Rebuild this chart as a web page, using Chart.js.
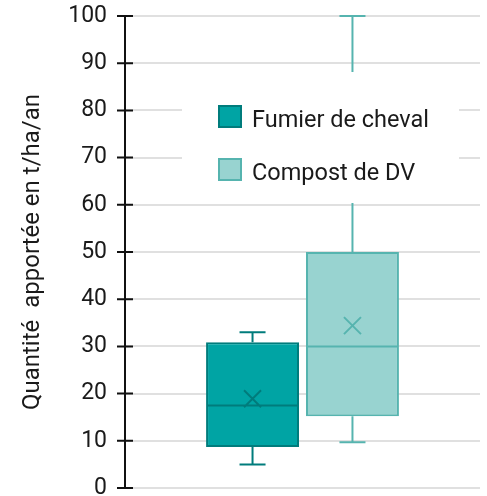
<!DOCTYPE html>
<html>
<head>
<meta charset="utf-8">
<script src="https://cdn.jsdelivr.net/npm/chart.js@4.4.1/dist/chart.umd.min.js"></script>
<style>
  html, body { margin: 0; padding: 0; background: #ffffff; }
  #wrap { width: 487px; height: 496px; position: relative; }
</style>
</head>
<body>
<div id="wrap"><canvas id="c" width="487" height="496"></canvas></div>
<script>
// ---- data ----
const categories = [''];
const seriesNames = ['Fumier de cheval', 'Compost de DV'];
const whiskerMin = [5, 9.7];
const quartile1 = [8.7, 15.2];
const medians = [17.5, 30];
const quartile3 = [30.9, 50];
const whiskerMax = [33, 100];
const means = [18.9, 34.4];
const yTickValues = [0, 10, 20, 30, 40, 50, 60, 70, 80, 90, 100];
const yTitle = 'Quantité  apportée en t/ha/an';

// ---- styles ----
const fills = ['rgb(0,164,164)', 'rgb(152,211,208)'];
const borders = ['rgb(0,124,124)', 'rgb(86,180,175)'];
const FONT = 'Roboto';

const boxPlugin = {
  id: 'boxExtras',
  afterDatasetsDraw(chart) {
    const ctx = chart.ctx;
    const y = chart.scales.y;
    chart.data.datasets.forEach((ds, i) => {
      const el = chart.getDatasetMeta(i).data[0];
      const x = el.x, w = el.width;
      const cap = w * 0.28;
      ctx.save();
      ctx.strokeStyle = borders[i];
      ctx.lineWidth = 2;
      ctx.beginPath();
      // whiskers
      ctx.moveTo(x, y.getPixelForValue(quartile3[i]));
      ctx.lineTo(x, y.getPixelForValue(whiskerMax[i]));
      ctx.moveTo(x - cap / 2, y.getPixelForValue(whiskerMax[i]));
      ctx.lineTo(x + cap / 2, y.getPixelForValue(whiskerMax[i]));
      ctx.moveTo(x, y.getPixelForValue(quartile1[i]));
      ctx.lineTo(x, y.getPixelForValue(whiskerMin[i]));
      ctx.moveTo(x - cap / 2, y.getPixelForValue(whiskerMin[i]));
      ctx.lineTo(x + cap / 2, y.getPixelForValue(whiskerMin[i]));
      // median
      ctx.moveTo(x - w / 2 + 1, y.getPixelForValue(medians[i]));
      ctx.lineTo(x + w / 2 - 1, y.getPixelForValue(medians[i]));
      // mean X
      const my = y.getPixelForValue(means[i]);
      const s = 8.5;
      ctx.moveTo(x - s, my - s); ctx.lineTo(x + s, my + s);
      ctx.moveTo(x - s, my + s); ctx.lineTo(x + s, my - s);
      ctx.stroke();
      ctx.restore();
    });

    // legend inside plot, white background
    ctx.save();
    ctx.fillStyle = '#ffffff';
    ctx.fillRect(182, 72, 277, 131);
    ctx.font = '23.5px ' + FONT;
    ctx.textBaseline = 'alphabetic';
    ctx.textAlign = 'left';
    const rows = [127, 180];
    seriesNames.forEach((name, i) => {
      const by = rows[i];
      ctx.fillStyle = fills[i];
      ctx.fillRect(218, by - 22, 24, 23);
      ctx.strokeStyle = borders[i];
      ctx.lineWidth = 2;
      ctx.strokeRect(219, by - 21, 22, 21);
      ctx.fillStyle = '#1a1a1a';
      ctx.fillText(name, 252, by);
    });
    ctx.restore();
  },
  afterDraw(chart) {
    const ctx = chart.ctx;
    const y = chart.scales.y;
    const ax = chart.chartArea.left;
    ctx.save();
    ctx.strokeStyle = '#111111';
    ctx.lineWidth = 2;
    ctx.beginPath();
    ctx.moveTo(ax, y.getPixelForValue(yTickValues[0]));
    ctx.lineTo(ax, y.getPixelForValue(yTickValues[yTickValues.length - 1]));
    yTickValues.forEach(v => {
      const py = y.getPixelForValue(v);
      ctx.moveTo(ax - 8, py);
      ctx.lineTo(ax + 8, py);
    });
    ctx.stroke();
    ctx.restore();
  }
};

new Chart(document.getElementById('c'), {
  type: 'bar',
  plugins: [boxPlugin],
  data: {
    labels: categories,
    datasets: seriesNames.map((name, i) => ({
      label: name,
      data: [[quartile1[i], quartile3[i]]],
      backgroundColor: fills[i],
      borderColor: borders[i],
      borderWidth: 2,
      borderSkipped: false,
      categoryPercentage: 0.563,
      barPercentage: 0.93
    }))
  },
  options: {
    responsive: false,
    animation: false,
    events: [],
    layout: { padding: { top: 16, bottom: 8, right: 7, left: 0 } },
    plugins: { legend: { display: false }, tooltip: { enabled: false } },
    scales: {
      x: { display: false },
      y: {
        min: 0, max: 100,
        afterFit(scale) { scale.width = 125; scale.paddingTop = 0; scale.paddingBottom = 0; },
        afterBuildTicks(scale) { scale.ticks = yTickValues.map(v => ({ value: v })); },
        ticks: {
          padding: 18,
          color: '#1a1a1a',
          font: { family: FONT, size: 23 }
        },
        grid: {
          color: '#e0e0e0',
          lineWidth: 2,
          drawTicks: false
        },
        border: { display: false },
        title: {
          display: true,
          text: yTitle,
          color: '#1a1a1a',
          font: { family: FONT, size: 24 },
          padding: { top: 18.5, bottom: 0 }
        }
      }
    }
  }
});
</script>
</body>
</html>
